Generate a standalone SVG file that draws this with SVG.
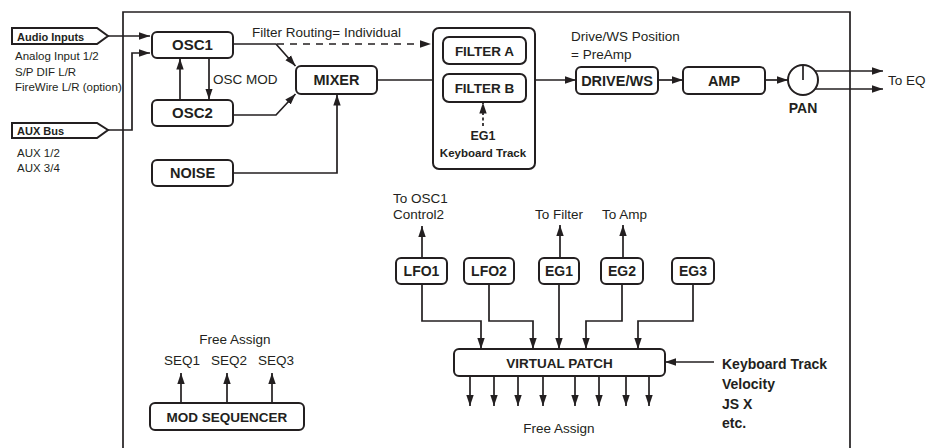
<svg xmlns="http://www.w3.org/2000/svg" width="934" height="448" viewBox="0 0 934 448">
<defs>
<marker id="ah" markerUnits="userSpaceOnUse" markerWidth="12" markerHeight="9" refX="11" refY="4.5" orient="auto">
<path d="M0,0.8 L11,4.5 L0,8.2 z" fill="#231f20"/>
</marker>
<style>
.box{fill:#fff;stroke:#231f20;stroke-width:2}
.ln{fill:none;stroke:#231f20;stroke-width:1.7}
.ar{fill:none;stroke:#231f20;stroke-width:1.7;marker-end:url(#ah)}
.b{font-family:"Liberation Sans",Arial,sans-serif;font-weight:bold;fill:#231f20}
.r{font-family:"Liberation Sans",Arial,sans-serif;fill:#231f20;font-size:13.5px}
.s{font-family:"Liberation Sans",Arial,sans-serif;fill:#231f20;font-size:11.5px}
.c{text-anchor:middle}
</style>
</defs>
<rect width="934" height="448" fill="#fff"/>
<path class="ln" d="M123,452 V12 H850 V452" stroke-width="2"/>

<g id="audio-inputs">
<polygon class="box" points="12,28 97,28 108,36 97,44 12,44"/>
<text class="b" x="17" y="41" font-size="11">Audio Inputs</text>
<text class="s" x="15" y="60">Analog Input 1/2</text>
<text class="s" x="15" y="76">S/P DIF L/R</text>
<text class="s" x="15" y="91">FireWire L/R (option)</text>
</g>
<g id="aux-bus">
<polygon class="box" points="12,123 97,123 108,130 97,138 12,138"/>
<text class="b" x="17" y="135" font-size="11">AUX Bus</text>
<text class="s" x="17" y="157">AUX 1/2</text>
<text class="s" x="17" y="172">AUX 3/4</text>
</g>

<g id="osc1"><rect class="box" x="152" y="32" width="81" height="26" rx="5"/><text class="b c" x="192.5" y="50" font-size="15">OSC1</text></g>
<g id="osc2"><rect class="box" x="152" y="100" width="81" height="26" rx="5"/><text class="b c" x="192.5" y="118" font-size="15">OSC2</text></g>
<g id="noise"><rect class="box" x="152" y="160" width="81" height="26" rx="5"/><text class="b c" x="192.5" y="178" font-size="14.5">NOISE</text></g>
<g id="mixer"><rect class="box" x="296" y="66" width="81" height="28" rx="5"/><text class="b c" x="336.5" y="85" font-size="14.5">MIXER</text></g>
<g id="filter">
<rect class="box" x="433" y="28" width="102" height="141" rx="6"/>
<rect class="box" x="443" y="37" width="83" height="27" rx="6"/>
<text class="b c" x="484.5" y="55.5" font-size="13.5">FILTER A</text>
<rect class="box" x="443" y="74" width="83" height="28" rx="6"/>
<text class="b c" x="484.5" y="93" font-size="13.5">FILTER B</text>
<text class="b c" x="483" y="140" font-size="12.5">EG1</text>
<text class="b c" x="483" y="157" font-size="11.5">Keyboard Track</text>
</g>
<g id="drive-ws"><rect class="box" x="576" y="67" width="82" height="27" rx="5"/><text class="b c" x="617" y="85.5" font-size="14.5">DRIVE/WS</text></g>
<g id="amp"><rect class="box" x="683" y="67" width="82" height="27" rx="5"/><text class="b c" x="724" y="85.5" font-size="14.5">AMP</text></g>
<g id="pan">
<circle class="box" cx="803" cy="80" r="15"/>
<line class="ln" x1="803" y1="66" x2="803" y2="80"/>
<text class="b c" x="803" y="113" font-size="14">PAN</text>
</g>
<g id="labels">
<text class="r" x="252" y="37">Filter Routing= Individual</text>
<text class="r" x="213" y="84">OSC MOD</text>
<text class="r" x="571" y="41">Drive/WS Position</text>
<text class="r" x="571" y="59">= PreAmp</text>
<text class="r" x="888" y="85">To EQ</text>
<text class="r" x="393" y="203">To OSC1</text>
<text class="r" x="393" y="219">Control2</text>
<text class="r" x="535" y="219">To Filter</text>
<text class="r" x="602" y="219">To Amp</text>
<text class="r c" x="559" y="433">Free Assign</text>
<text class="r c" x="235" y="344">Free Assign</text>
<text class="r c" x="182" y="365">SEQ1</text>
<text class="r c" x="229" y="365">SEQ2</text>
<text class="r c" x="276" y="365">SEQ3</text>
<text class="b" x="722" y="369" font-size="14">Keyboard Track</text>
<text class="b" x="722" y="389" font-size="14">Velocity</text>
<text class="b" x="722" y="409" font-size="14">JS X</text>
<text class="b" x="722" y="428" font-size="14">etc.</text>
</g>

<g id="lfo1"><rect class="box" x="396" y="258" width="51" height="26" rx="5"/><text class="b c" x="421.5" y="276" font-size="14">LFO1</text></g>
<g id="lfo2"><rect class="box" x="464" y="258" width="50" height="26" rx="5"/><text class="b c" x="489" y="276" font-size="14">LFO2</text></g>
<g id="eg1"><rect class="box" x="539" y="258" width="40" height="26" rx="5"/><text class="b c" x="559" y="276" font-size="14">EG1</text></g>
<g id="eg2"><rect class="box" x="601" y="258" width="42" height="26" rx="5"/><text class="b c" x="622" y="276" font-size="14">EG2</text></g>
<g id="eg3"><rect class="box" x="672" y="258" width="42" height="26" rx="5"/><text class="b c" x="693" y="276" font-size="14">EG3</text></g>
<g id="virtual-patch"><rect class="box" x="454" y="349" width="211" height="27" rx="5"/><text class="b c" x="559.5" y="367.5" font-size="13.5">VIRTUAL PATCH</text></g>
<g id="mod-sequencer"><rect class="box" x="150" y="403" width="154" height="27" rx="5"/><text class="b c" x="227" y="421.5" font-size="13.5">MOD SEQUENCER</text></g>

<g id="connectors">
<path class="ar" d="M108,36 H150"/>
<path class="ar" d="M108,130 H132 V53 H150"/>
<path class="ar" d="M180,100 V58.5"/>
<path class="ar" d="M209,58 V99.5"/>
<path class="ar" d="M233,44 H276 L295.5,66"/>
<path class="ar" d="M233,115 H276 L295.5,94"/>
<path class="ar" d="M233,173 H337 V94.5"/>
<path class="ar" d="M277,44 H431" stroke-dasharray="7,6"/>
<path class="ln" d="M377,80 H433"/>
<path class="ar" d="M483,126 V102.5" stroke-dasharray="3,2.5"/>
<path class="ar" d="M535,80 H576"/>
<path class="ar" d="M658,80 H683"/>
<path class="ar" d="M765,80 H788"/>
<path class="ar" d="M815,71 H883"/>
<path class="ar" d="M815,89 H883"/>
<path class="ar" d="M422,258 V226"/>
<path class="ar" d="M560,258 V225"/>
<path class="ar" d="M623,258 V225"/>
<path class="ar" d="M422,284 V321 H481 V349"/>
<path class="ar" d="M489,284 V321 H533 V349"/>
<path class="ar" d="M559,284 V349"/>
<path class="ar" d="M622,284 V321 H586 V349"/>
<path class="ar" d="M693,284 V321 H638 V349"/>
<path class="ar" d="M714,362 H665"/>
<path class="ar" d="M470,376 V406"/>
<path class="ar" d="M494,376 V406"/>
<path class="ar" d="M518,376 V406"/>
<path class="ar" d="M543,376 V406"/>
<path class="ar" d="M575,376 V406"/>
<path class="ar" d="M599,376 V406"/>
<path class="ar" d="M626,376 V406"/>
<path class="ar" d="M649,376 V406"/>
<path class="ar" d="M181,403 V373"/>
<path class="ar" d="M227,403 V373"/>
<path class="ar" d="M272,403 V373"/>
</g>
</svg>
